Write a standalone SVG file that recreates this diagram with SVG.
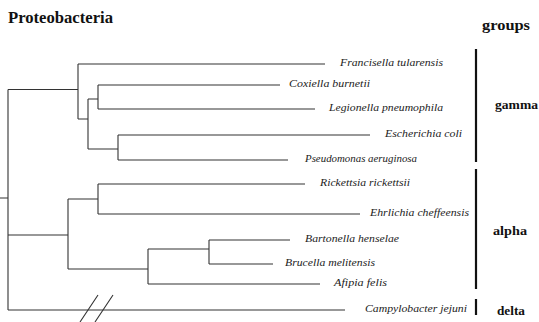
<svg xmlns="http://www.w3.org/2000/svg" width="539" height="322" viewBox="0 0 539 322">
<style>
.br{stroke:#333;stroke-width:1.1;fill:none}
.bar{stroke:#111;stroke-width:2.2}
.sp{font-style:italic;font-size:11px;fill:#222}
.hd{font-weight:bold;fill:#111}
</style>
<rect width="539" height="322" fill="#fff"/>
<g font-family="Liberation Serif, DejaVu Serif, serif">
<text class="hd" x="8" y="23" font-size="16" textLength="105" lengthAdjust="spacingAndGlyphs">Proteobacteria</text>
<text class="hd" x="482" y="30" font-size="14" textLength="48" lengthAdjust="spacingAndGlyphs">groups</text>
<g id="connectors">
<path class="br" d="M0,198H8M8,89.5V310M8,89.5H78M78,64V119M78,64H325M78,119H88M88,99V149M88,99H98M98,85V109M98,85H280M98,109H315M88,149H118M118,135V160M118,135H370M118,160H288"/>
<path class="br" d="M8,235H68M68,199V269M68,199H98M98,184V214M98,184H305M98,214H360M68,269H148M148,249V284M148,249H209M209,240V264M209,240H290M209,264H273M148,284H320M8,310H345"/>
<path class="br" d="M80,322L98,295M95,322L113,295"/>
</g>
<g id="species">
<text class="sp" x="340" y="66" textLength="103" lengthAdjust="spacingAndGlyphs">Francisella tularensis</text>
<text class="sp" x="289" y="87" textLength="81" lengthAdjust="spacingAndGlyphs">Coxiella burnetii</text>
<text class="sp" x="329" y="111" textLength="114" lengthAdjust="spacingAndGlyphs">Legionella pneumophila</text>
<text class="sp" x="385" y="137" textLength="77" lengthAdjust="spacingAndGlyphs">Escherichia coli</text>
<text class="sp" x="305" y="162" textLength="112" lengthAdjust="spacingAndGlyphs">Pseudomonas aeruginosa</text>
<text class="sp" x="320" y="186" textLength="90" lengthAdjust="spacingAndGlyphs">Rickettsia rickettsii</text>
<text class="sp" x="370" y="216" textLength="99" lengthAdjust="spacingAndGlyphs">Ehrlichia cheffeensis</text>
<text class="sp" x="305" y="242" textLength="94" lengthAdjust="spacingAndGlyphs">Bartonella henselae</text>
<text class="sp" x="285" y="266" textLength="90" lengthAdjust="spacingAndGlyphs">Brucella melitensis</text>
<text class="sp" x="334" y="286" textLength="53" lengthAdjust="spacingAndGlyphs">Afipia felis</text>
<text class="sp" x="365" y="312" textLength="102" lengthAdjust="spacingAndGlyphs">Campylobacter jejuni</text>
</g>
<g id="group-gamma">
<line class="bar" x1="476" y1="49" x2="476" y2="162"/>
<text class="hd" x="495" y="109" font-size="12" textLength="43" lengthAdjust="spacingAndGlyphs">gamma</text>
</g>
<g id="group-alpha">
<line class="bar" x1="476" y1="169" x2="476" y2="289"/>
<text class="hd" x="493" y="235" font-size="12" textLength="34" lengthAdjust="spacingAndGlyphs">alpha</text>
</g>
<g id="group-delta">
<line class="bar" x1="476" y1="299" x2="476" y2="315"/>
<text class="hd" x="497" y="315" font-size="12" textLength="28" lengthAdjust="spacingAndGlyphs">delta</text>
</g>
</g>
</svg>
